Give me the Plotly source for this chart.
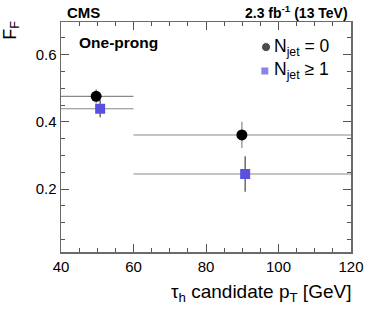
import plotly.graph_objects as go

bin_low = [40, 60]
bin_high = [60, 120]
x_nj0 = [49.7, 89.9]
y_nj0 = [0.476, 0.361]
ey_nj0 = [0.021, 0.039]
x_nj1 = [50.8, 90.8]
y_nj1 = [0.439, 0.245]
ey_nj1 = [0.025, 0.053]

legend_labels = ["N<sub>jet</sub> = 0", "N<sub>jet</sub> \u2265 1"]

FONT = "Liberation Sans, Arial, Helvetica, sans-serif"
CIRCLE_COLOR = "black"
SQUARE_COLOR = "#5a50e0"

def xerr(xs):
    plus = [h - x for x, h in zip(xs, bin_high)]
    minus = [x - l for x, l in zip(xs, bin_low)]
    return dict(type="data", symmetric=False, array=plus, arrayminus=minus,
                color="#888888", thickness=1.2, width=0)

fig = go.Figure()
fig.add_trace(go.Scatter(
    x=x_nj0, y=y_nj0, mode="markers", name=legend_labels[0], showlegend=False,
    marker=dict(symbol="circle", size=11, color=CIRCLE_COLOR),
    error_x=xerr(x_nj0),
    error_y=dict(type="data", array=ey_nj0, color="#888888", thickness=1.2, width=0),
))
fig.add_trace(go.Scatter(
    x=x_nj1, y=y_nj1, mode="markers", name=legend_labels[1], showlegend=False,
    marker=dict(symbol="square", size=10, color=SQUARE_COLOR),
    error_x=xerr(x_nj1),
    error_y=dict(type="data", array=ey_nj1, color="#444444", thickness=1.2, width=0),
))

# legend keys drawn on a hidden overlay axis (fractions of the plot area)
fig.add_trace(go.Scatter(
    x=[0.707, 0.703], y=[0.891, 0.787], mode="markers", xaxis="x2", yaxis="y2",
    showlegend=False, hoverinfo="skip",
    marker=dict(symbol=["circle", "square"], size=[9, 8],
                color=[CIRCLE_COLOR, SQUARE_COLOR]),
))

axis_common = dict(
    showgrid=False, zeroline=False, showline=True, linecolor="#6a6a6a", linewidth=1.5,
    mirror="allticks", ticks="inside", tickcolor="#555555", ticklen=8, tickwidth=1,
    tickfont=dict(family=FONT, size=15, color="black"), automargin=False,
)
fig.update_layout(
    template="none",
    xaxis=dict(range=[40, 120], tick0=40, dtick=20,
               minor=dict(ticks="inside", dtick=5, ticklen=4, tickcolor="#555555",
                          showgrid=False),
               **axis_common),
    yaxis=dict(range=[0.013, 0.697], tick0=0, dtick=0.2,
               minor=dict(ticks="inside", dtick=0.05, ticklen=4, tickcolor="#555555",
                          showgrid=False),
               **axis_common),
    xaxis2=dict(range=[0, 1], overlaying="x", visible=False, anchor="y2",
                automargin=False),
    yaxis2=dict(range=[0, 1], overlaying="y", visible=False, anchor="x2",
                automargin=False),
)

fig.update_layout(
    width=366, height=312, autosize=False,
    margin=dict(l=61, r=15, t=22, b=60),
    paper_bgcolor="white", plot_bgcolor="white",
    font=dict(family=FONT, color="black"),
    showlegend=False,
    annotations=[
        dict(text="<b>CMS</b>", xref="paper", yref="paper", x=0.014, y=1.043,
             xanchor="left", yanchor="middle", showarrow=False,
             font=dict(size=15, color="black")),
        dict(text="<b>2.3 fb<sup>-1</sup> (13 TeV)</b>", xref="paper", yref="paper",
             x=0.997, y=1.043, xanchor="right", yanchor="middle", showarrow=False,
             font=dict(size=14, color="black")),
        dict(text="<b>One-prong</b>", xref="paper", yref="paper", x=0.055, y=0.913,
             xanchor="left", yanchor="middle", showarrow=False,
             font=dict(size=15.5, color="black")),
        dict(text=legend_labels[0], xref="paper", yref="paper", x=0.728, y=0.891,
             xanchor="left", yanchor="middle", showarrow=False,
             font=dict(size=17.5, color="black")),
        dict(text=legend_labels[1], xref="paper", yref="paper", x=0.728, y=0.787,
             xanchor="left", yanchor="middle", showarrow=False,
             font=dict(size=17.5, color="black")),
        dict(text="F<sub>F</sub>", xref="paper", yref="paper", x=-0.172, y=0.963,
             xanchor="center", yanchor="middle", showarrow=False, textangle=-90,
             font=dict(size=18, color="black")),
        dict(text="\u03c4<sub>h</sub> candidate p<sub>T</sub> [GeV]", xref="paper",
             yref="paper", x=1.007, y=-0.178, xanchor="right", yanchor="middle",
             showarrow=False, font=dict(size=19, color="black")),
    ],
)

fig.write_html(
    "out.html",
    config={"responsive": False, "displayModeBar": False, "staticPlot": True},
    post_script="document.body.style.margin='0px';document.body.style.overflow='hidden';",
)
